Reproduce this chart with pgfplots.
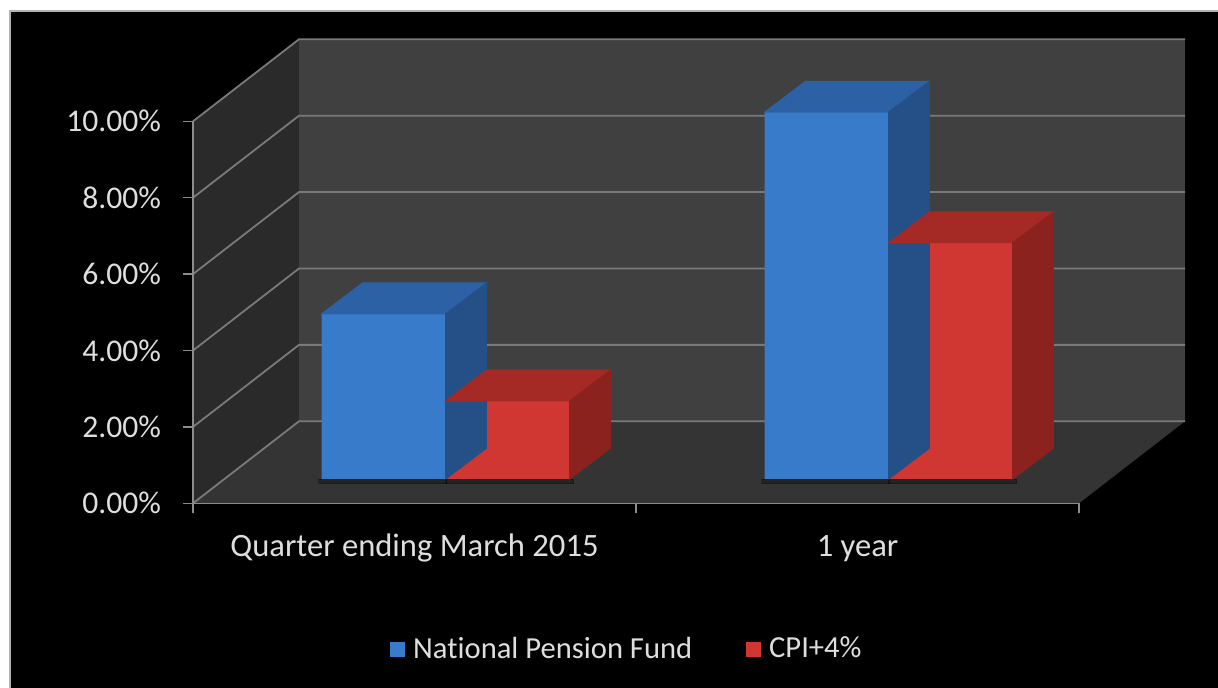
\documentclass[border=0pt]{standalone}
\usepackage{pgfplots}
\pgfplotsset{compat=1.18}
\usepackage{pgfplotstable}
\usepackage{fontspec}
\setmainfont{Carlito}[Ligatures=NoCommon]

\definecolor{bgwall}{RGB}{64,64,64}
\definecolor{sidewall}{RGB}{42,42,42}
\definecolor{floorc}{RGB}{52,52,52}
\definecolor{gridc}{RGB}{122,122,122}
\definecolor{axisc}{RGB}{140,140,140}
\definecolor{txt}{RGB}{222,222,222}
\definecolor{bluetopc}{RGB}{44,98,165}
\definecolor{bluefront}{RGB}{57,123,203}
\definecolor{bluesidec}{RGB}{37,80,135}
\definecolor{redtopc}{RGB}{165,42,38}
\definecolor{redfront}{RGB}{208,55,50}
\definecolor{redsidec}{RGB}{140,34,30}

\pgfdeclareplotmark{nothing}{}

\pgfplotstableread{
x v
0 4.33
1 9.61
}\npf
\pgfplotstableread{
x v
0 2.05
1 6.19
}\cpi

\begin{document}
\begin{tikzpicture}
\useasboundingbox (0pt,0pt) rectangle (609pt,344pt);
\fill[white] (0pt,0pt) rectangle (609pt,344pt);
\fill[black] (5pt,0pt) rectangle (609pt,338.5pt);
\draw[gray!60, line width=0.6pt] (5pt,0pt) -- (5pt,338.5pt) -- (609pt,338.5pt);
\begin{axis}[
  at={(96.5pt,92.35pt)}, anchor=south west,
  x=221.5pt, y=19.1pt,
  xmin=-0.5, xmax=1.7393, ymin=0, ymax=12.147,
  clip=false,
  axis lines*=left,
  axis line style={draw=none},
  tick align=outside,
  major tick length=5pt,
  tick style={color=axisc, line width=0.7pt},
  ytick={0,2,4,6,8,10},
  yticklabels={0.00\%,2.00\%,4.00\%,6.00\%,8.00\%,10.00\%},
  xtick={-0.5,0.5,1.5},
  xticklabels={,,},
  extra x ticks={0,1},
  extra x tick labels={Quarter ending March 2015,1 year},
  extra x tick style={major tick length=0pt},
  tick label style={text=txt},
  yticklabel style={anchor=east, xshift=-7.5pt, font=\fontsize{15.8}{19}\selectfont},
  xticklabel style={anchor=base, yshift=-26.5pt, font=\fontsize{16.3}{19}\selectfont},
  legend style={at={(0.4385,-0.3138)}, anchor=center, draw=none, fill=none,
    text=txt, font=\fontsize{15.3}{18}\selectfont,
    /tikz/every even column/.append style={column sep=25pt}},
  legend columns=2,
]
% walls and floor
\fill[sidewall] (axis cs:-0.5,0) -- ++(53pt,41pt) -- ++(0pt,191pt) -- (axis cs:-0.5,10) -- cycle;
\fill[bgwall] ([shift={(53pt,41pt)}]axis cs:-0.5,0) rectangle ++(443pt,191pt);
\fill[floorc] (axis cs:-0.5,0) -- (axis cs:1.5,0) -- ++(53pt,41pt) -- ++(-443pt,0pt) -- cycle;
\pgfplotsinvokeforeach{0,2,4,6,8,10}{
  \draw[gridc, line width=0.9pt] (axis cs:-0.5,#1) -- ++(53pt,41pt) -- ++(443pt,0pt);
}
\draw[axisc, line width=0.7pt] (axis cs:-0.5,10) -- (axis cs:-0.5,0) -- (axis cs:1.5,0);

% National Pension Fund
\addplot[ybar, bar width=62pt, bar shift=-31pt, draw=none, fill=bluefront,
  xshift=15.5pt, yshift=12pt, forget plot] table[x=x,y=v]{\npf};
\addplot[scatter, only marks, mark=nothing, forget plot,
  visualization depends on={rawy \as \h},
  scatter/@pre marker code/.code={
    \fill[black, opacity=0.3] (-48pt,{12pt-\h*19.1pt}) rectangle ++(64pt,-2.2pt);
    \fill[bluetopc] (15.5pt,12pt) -- ++(-62pt,0pt) -- ++(20.5pt,15.5pt) -- ++(62pt,0pt) -- cycle;
    \fill[bluesidec] (15.5pt,12pt) -- ++(20.5pt,15.5pt) -- ++(0pt,{-\h*19.1pt}) -- ++(-20.5pt,-15.5pt) -- cycle;
  },
  scatter/@post marker code/.code={}
] table[x=x,y=v]{\npf};

% CPI+4%
\addplot[ybar, bar width=62pt, bar shift=31pt, draw=none, fill=redfront,
  xshift=15.5pt, yshift=12pt, forget plot] table[x=x,y=v]{\cpi};
\addplot[scatter, only marks, mark=nothing, forget plot,
  visualization depends on={rawy \as \h},
  scatter/@pre marker code/.code={
    \fill[black, opacity=0.3] (-46.5pt,{12pt-\h*19.1pt}) rectangle ++(64pt,-2.2pt);
    \fill[redtopc] (15.5pt,12pt) -- ++(-62pt,0pt) -- ++(20.5pt,15.5pt) -- ++(62pt,0pt) -- cycle;
    \fill[redsidec] (15.5pt,12pt) -- ++(20.5pt,15.5pt) -- ++(0pt,{-\h*19.1pt}) -- ++(-20.5pt,-15.5pt) -- cycle;
  },
  scatter/@post marker code/.code={}
] table[x expr=\thisrow{x}+0.28,y=v]{\cpi};

\addlegendimage{legend image code/.code={\fill[bluefront] (0pt,-3.5pt) rectangle (7pt,3.5pt); \path (9pt,0pt);}}
\addlegendentry{National Pension Fund}
\addlegendimage{legend image code/.code={\fill[redfront] (0pt,-3.5pt) rectangle (7pt,3.5pt); \path (9pt,0pt);}}
\addlegendentry{CPI+4\%}
\end{axis}
\end{tikzpicture}
\end{document}
